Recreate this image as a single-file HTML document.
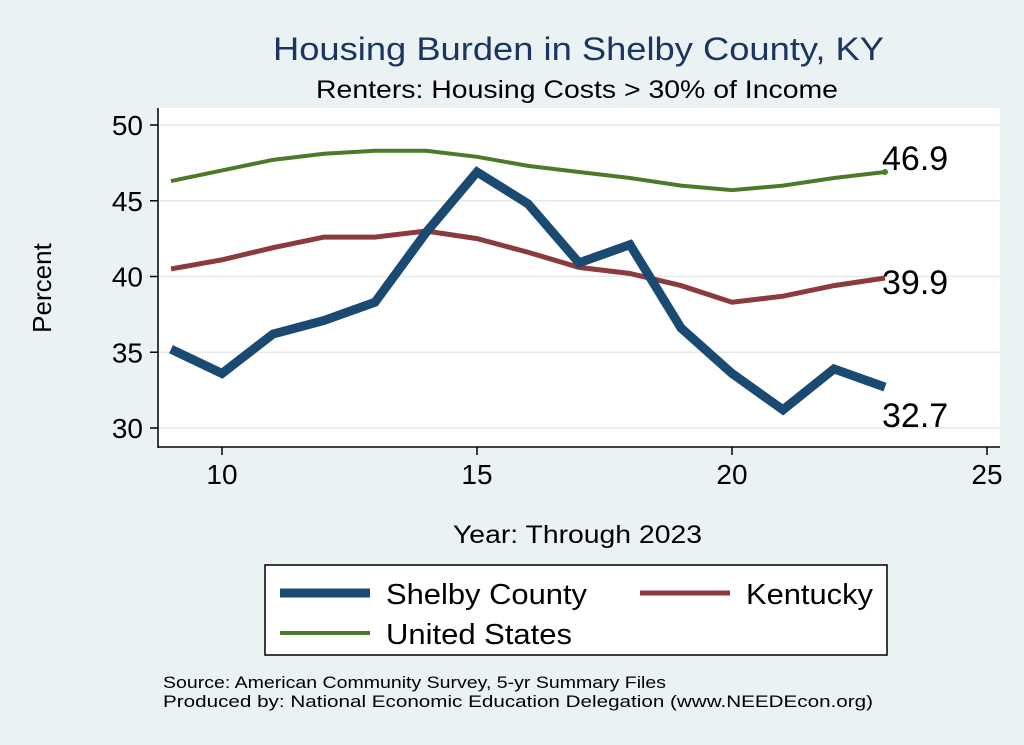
<!DOCTYPE html>
<html><head><meta charset="utf-8"><style>
html,body{margin:0;padding:0;background:#eaf2f3;}
svg{display:block;font-family:"Liberation Sans",sans-serif;}
</style></head><body>
<svg id="chart" width="1024" height="745">
<rect x="0" y="0" width="1024" height="745" fill="#eaf2f3"/>
<rect x="158" y="108" width="842" height="340" fill="#ffffff"/>
<text x="273" y="60" font-size="32" textLength="611" lengthAdjust="spacingAndGlyphs" fill="#1a3560">Housing Burden in Shelby County, KY</text>
<text x="316" y="98" font-size="25" textLength="522" lengthAdjust="spacingAndGlyphs" fill="#000">Renters: Housing Costs &gt; 30% of Income</text>
<text x="51" y="288" text-anchor="middle" font-size="26" transform="rotate(-90 51 288)">Percent</text>
<text x="453" y="543" font-size="25" textLength="249" lengthAdjust="spacingAndGlyphs">Year: Through 2023</text>
<g id="grid"></g><g id="axes"></g><g id="series"></g>
<rect x="265" y="565" width="622" height="90" fill="#fff" stroke="#000" stroke-width="1.5"/>
<line x1="280" y1="593" x2="370" y2="593" stroke="#1a4a72" stroke-width="9"/>
<text x="386" y="604" font-size="29" textLength="201" lengthAdjust="spacingAndGlyphs">Shelby County</text>
<line x1="640" y1="593" x2="730" y2="593" stroke="#8b3a3e" stroke-width="5"/>
<text x="746" y="604" font-size="29" textLength="127" lengthAdjust="spacingAndGlyphs">Kentucky</text>
<line x1="280" y1="633" x2="370" y2="633" stroke="#4d7a2a" stroke-width="4"/>
<text x="386" y="644" font-size="29" textLength="186" lengthAdjust="spacingAndGlyphs">United States</text>
<text x="163" y="688" font-size="17" textLength="503" lengthAdjust="spacingAndGlyphs">Source: American Community Survey, 5-yr Summary Files</text>
<text x="163" y="707" font-size="17" textLength="710" lengthAdjust="spacingAndGlyphs">Produced by: National Economic Education Delegation (www.NEEDEcon.org)</text>
</svg>
<script>
const years=[9,10,11,12,13,14,15,16,17,18,19,20,21,22,23];
const shelby=[35.2,33.6,36.2,37.1,38.3,42.9,46.9,44.8,40.9,42.1,36.6,33.6,31.2,33.9,32.7];
const kentucky=[40.5,41.1,41.9,42.6,42.6,43.0,42.5,41.6,40.6,40.2,39.4,38.3,38.7,39.4,39.9];
const us=[46.3,47.0,47.7,48.1,48.3,48.3,47.9,47.3,46.9,46.5,46.0,45.7,46.0,46.5,46.9];
const xTicks=[10,15,20,25];
const yTicks=[30,35,40,45,50];
const NS="http://www.w3.org/2000/svg";
function X(v){return 222+(v-10)*51;}
function Y(v){return 428-(v-30)*15.15;}
function mk(t,a,p){const e=document.createElementNS(NS,t);for(const k in a)e.setAttribute(k,a[k]);p.appendChild(e);return e;}
const grid=document.getElementById('grid'),axes=document.getElementById('axes'),ser=document.getElementById('series');
mk('line',{x1:158,y1:108,x2:158,y2:448,stroke:'#000','stroke-width':1.5},axes);
mk('line',{x1:158,y1:447,x2:1000,y2:447,stroke:'#000','stroke-width':1.5},axes);
yTicks.forEach(v=>{
 const g=mk('line',{x1:158,y1:Y(v),x2:1000,y2:Y(v),stroke:'#e6eaeb','stroke-width':1.5},grid);
 
 
 mk('line',{x1:150,y1:Y(v),x2:158,y2:Y(v),stroke:'#000','stroke-width':1.5},axes);
 const t=mk('text',{x:143,y:Y(v)+10,'text-anchor':'end','font-size':28},axes);t.textContent=v;
 
 
});
xTicks.forEach(v=>{
 mk('line',{x1:X(v),y1:447,x2:X(v),y2:455,stroke:'#000','stroke-width':1.5},axes);
 const t=mk('text',{x:X(v),y:484,'text-anchor':'middle','font-size':28},axes);t.textContent=v;
 
 
});
function line(data,color,w,name){
 const p=mk('polyline',{points:data.map((d,i)=>X(years[i])+','+Y(d)).join(' '),fill:'none',stroke:color,'stroke-width':w,'stroke-linejoin':'miter'},ser);
 
 
}
line(us,'#4d7a2a',4,'us-line');
line(kentucky,'#8b3a3e',5,'kentucky-line');
line(shelby,'#1a4a72',9,'shelby-line');
const last=years.length-1;
mk('circle',{cx:X(years[last]),cy:Y(us[last]),r:3,fill:'#3a8a1a'},ser);
const labs=[[us[last],Y(us[last])-2,'us-end-label'],[kentucky[last],Y(kentucky[last])+16,'kentucky-end-label'],[shelby[last],Y(shelby[last])+40,'shelby-end-label']];
labs.forEach(l=>{
 const t=mk('text',{x:882,y:l[1],'font-size':34},ser);t.textContent=l[0].toFixed(1);
 
 
});
</script>
</body></html>
